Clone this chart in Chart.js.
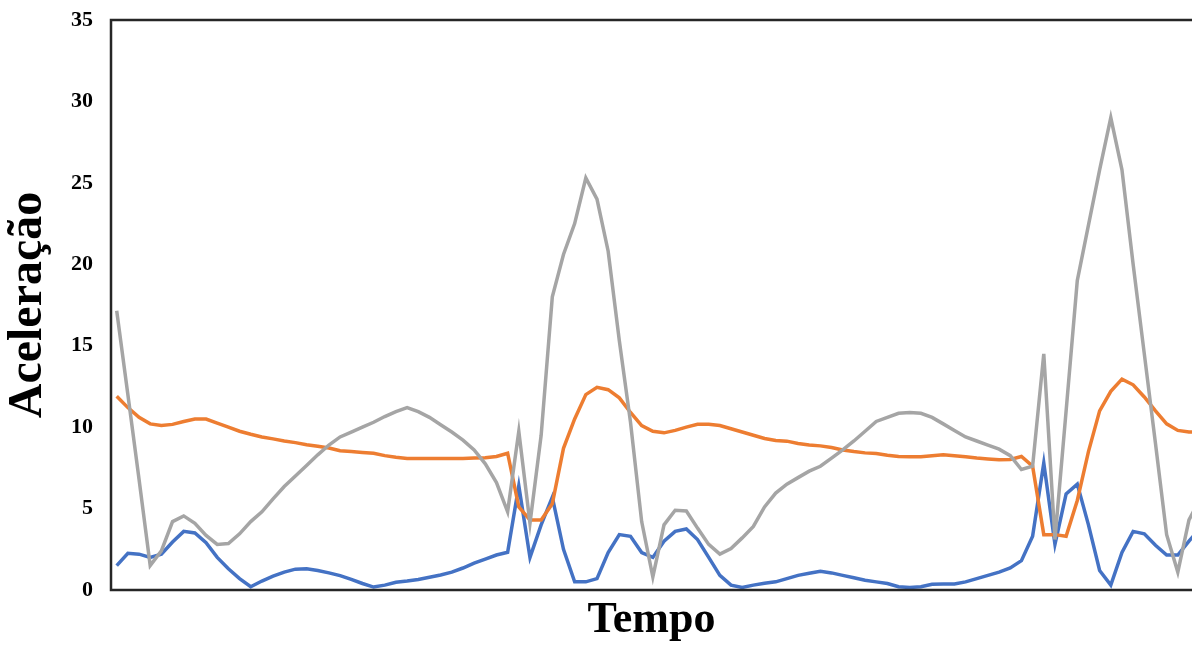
<!DOCTYPE html>
<html>
<head>
<meta charset="utf-8">
<script src="https://cdn.jsdelivr.net/npm/chart.js@4/dist/chart.umd.min.js"></script>
<style>
  html, body { margin: 0; padding: 0; background: #ffffff; overflow: hidden; }
  #wrap { width: 1192px; height: 646px; }
</style>
</head>
<body>
<div id="wrap"><canvas id="c" width="1192" height="646"></canvas></div>
<script>
// ---- Data ----
const yTicks = [0, 5, 10, 15, 20, 25, 30, 35];
const yTitle = "Aceleração";
const xTitle = "Tempo";

const serieAzul = [
  1.5, 2.25, 2.2, 2.0, 2.2, 2.95, 3.6, 3.5, 2.9, 2.0,
  1.3, 0.7, 0.2, 0.55, 0.85, 1.1, 1.28, 1.3, 1.2, 1.05,
  0.88, 0.65, 0.4, 0.18, 0.3, 0.47, 0.55, 0.65, 0.78, 0.92,
  1.1, 1.35, 1.65, 1.9, 2.15, 2.32, 6.4, 2.0, 4.0, 5.7,
  2.5, 0.5, 0.5, 0.7, 2.3, 3.4, 3.3, 2.3, 2.0, 3.0,
  3.6, 3.75, 3.1, 2.0, 0.9, 0.3, 0.15, 0.3, 0.42, 0.5,
  0.7, 0.9, 1.03, 1.15, 1.05, 0.9, 0.75, 0.6, 0.5, 0.4,
  0.2, 0.15, 0.2, 0.35, 0.37, 0.37, 0.5, 0.7, 0.9, 1.1,
  1.35, 1.8, 3.3, 7.8, 2.8, 5.9, 6.5, 4.0, 1.2, 0.3,
  2.3, 3.6, 3.45, 2.75, 2.15, 2.15, 3.0, 3.8
];
const serieLaranja = [
  11.9, 11.2, 10.6, 10.2, 10.1, 10.17, 10.35, 10.5, 10.5, 10.25,
  10.0, 9.75, 9.56, 9.4, 9.28, 9.15, 9.05, 8.92, 8.83, 8.72,
  8.55, 8.5, 8.45, 8.4, 8.25, 8.15, 8.08, 8.07, 8.07, 8.07,
  8.07, 8.08, 8.1, 8.12, 8.2, 8.4, 5.1, 4.3, 4.3, 5.3,
  8.7, 10.5, 12.0, 12.45, 12.3, 11.8, 10.9, 10.1, 9.75, 9.65,
  9.8, 10.0, 10.17, 10.17, 10.1, 9.9, 9.7, 9.5, 9.3, 9.18,
  9.14, 9.0, 8.9, 8.85, 8.75, 8.6, 8.5, 8.42, 8.38, 8.28,
  8.2, 8.18, 8.18, 8.25, 8.3, 8.25, 8.18, 8.1, 8.05, 8.0,
  8.02, 8.2, 7.6, 3.4, 3.4, 3.3, 5.5, 8.5, 11.0, 12.2,
  12.95, 12.6, 11.85, 11.0, 10.2, 9.8, 9.7, 9.7
];
const serieCinza = [
  17.15, 12.0, 6.8, 1.5, 2.4, 4.2, 4.55, 4.1, 3.35, 2.8,
  2.85, 3.45, 4.2, 4.8, 5.6, 6.35, 7.0, 7.65, 8.3, 8.9,
  9.4, 9.7, 10.0, 10.3, 10.65, 10.95, 11.2, 10.95, 10.6, 10.15,
  9.7, 9.2, 8.6, 7.75, 6.6, 4.8, 9.75, 4.1, 9.5, 18.0,
  20.6, 22.5, 25.3, 24.0, 20.8, 15.3, 10.3, 4.2, 0.8, 4.0,
  4.9, 4.85, 3.8, 2.8, 2.2, 2.55, 3.2, 3.9, 5.1, 5.95,
  6.5, 6.9, 7.3, 7.6, 8.1, 8.6, 9.15, 9.75, 10.35, 10.6,
  10.85, 10.9, 10.85, 10.6, 10.2, 9.8, 9.4, 9.15, 8.9, 8.65,
  8.25, 7.4, 7.6, 14.5, 3.1, 11.0, 19.0, 22.4, 25.8, 29.0,
  25.8, 20.0, 14.5, 9.0, 3.4, 1.1, 4.3, 5.6
];

const toXY = arr => arr.map((v, i) => ({ x: i, y: v }));
const FONT = "'Liberation Serif', 'Times New Roman', serif";

const framePlugin = {
  id: 'frame',
  afterDatasetsDraw(chart) {
    const { ctx, chartArea: a } = chart;
    ctx.save();
    ctx.strokeStyle = '#262626';
    ctx.lineWidth = 2.5;
    ctx.beginPath();
    ctx.moveTo(a.right + 5, a.top);
    ctx.lineTo(a.left, a.top);
    ctx.lineTo(a.left, a.bottom);
    ctx.lineTo(a.right + 5, a.bottom);
    ctx.stroke();
    ctx.restore();
  }
};

new Chart(document.getElementById('c'), {
  type: 'line',
  data: {
    datasets: [
      { data: toXY(serieAzul), borderColor: '#4472C4', borderWidth: 3.5, pointRadius: 0, tension: 0, order: 3 },
      { data: toXY(serieLaranja), borderColor: '#ED7D31', borderWidth: 3.5, pointRadius: 0, tension: 0, order: 2 },
      { data: toXY(serieCinza), borderColor: '#A5A5A5', borderWidth: 3.5, pointRadius: 0, tension: 0, order: 1 }
    ]
  },
  options: {
    responsive: false,
    devicePixelRatio: 1,
    animation: false,
    layout: { padding: { top: 20, right: 0, left: 0, bottom: 0 } },
    plugins: { legend: { display: false }, tooltip: { enabled: false }, title: { display: false } },
    scales: {
      x: {
        type: 'linear',
        min: -0.51,
        max: 96.27,
        grid: { display: false, drawTicks: false },
        border: { display: false },
        ticks: { display: false },
        title: {
          display: true, text: xTitle, color: '#000',
          font: { family: FONT, size: 44, weight: 'bold', lineHeight: 1.15 },
          padding: { top: 0, bottom: 0 }
        },
        afterFit: s => { s.height = 56; }
      },
      y: {
        min: 0,
        max: 35,
        afterBuildTicks: s => { s.ticks = yTicks.map(v => ({ value: v })); },
        grid: { display: false, drawTicks: false },
        border: { display: false },
        ticks: {
          color: '#000', padding: 18,
          font: { family: FONT, size: 22, weight: 'bold' }
        },
        title: {
          display: true, text: yTitle, color: '#000',
          font: { family: FONT, size: 48, weight: 'bold', lineHeight: 1.2 },
          padding: { top: 0, bottom: 0 }
        },
        afterFit: s => { s.width = 111; s.paddingTop = 0; s.paddingBottom = 0; }
      }
    }
  },
  plugins: [framePlugin]
});
</script>
</body>
</html>
